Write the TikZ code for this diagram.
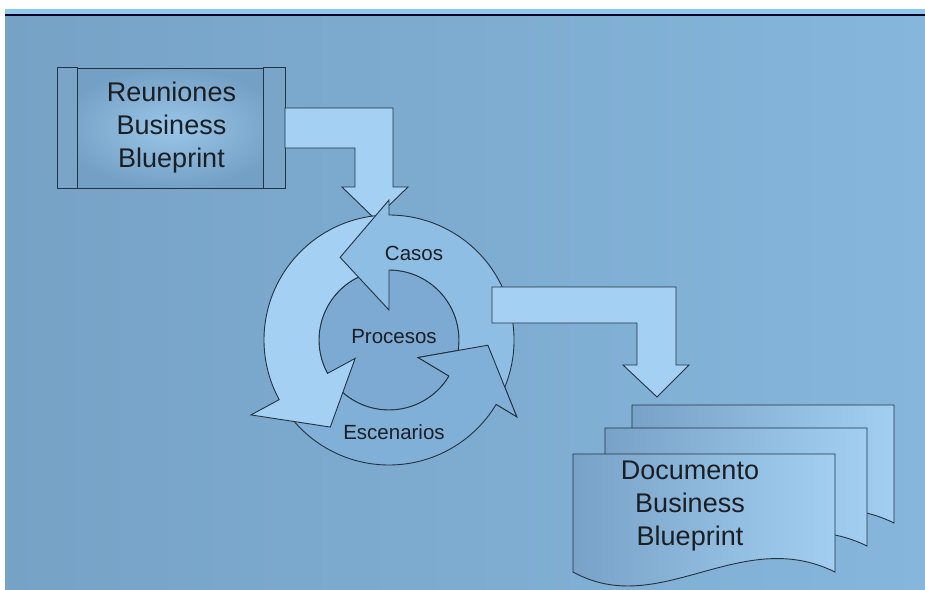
\documentclass[tikz,border=0pt]{standalone}
\usepackage{fontspec}
\setmainfont{Liberation Sans}

\definecolor{bgleft}{HTML}{76A2C6}
\definecolor{bgright}{HTML}{86B6DC}
\definecolor{topstrip}{HTML}{8ECAEB}
\definecolor{arrowlight}{HTML}{A3D0F3}
\definecolor{casosblue}{HTML}{8FBEE4}
\definecolor{escblue}{HTML}{80AFD7}
\definecolor{holeblue}{HTML}{7DAAD2}
\definecolor{boxinner}{HTML}{9AC6E9}
\definecolor{boxouter}{HTML}{74A0C5}
\definecolor{boxside}{HTML}{7AA5C9}
\definecolor{docleft}{HTML}{78A2C7}
\definecolor{docright}{HTML}{A2CFF1}
\definecolor{edge}{HTML}{26323D}
\definecolor{ink}{HTML}{1B1F24}

\tikzset{
  outline/.style={draw=edge, line width=0.9pt, line join=miter},
  bigtext/.style={font=\fontsize{27}{33}\selectfont, text=ink, align=center},
  cyctext/.style={font=\fontsize{20.5}{24}\selectfont, text=ink},
}

\begin{document}
\begin{tikzpicture}[x=1pt,y=-1pt]
  \useasboundingbox (0,0) rectangle (925,589);
  % background
  \fill[white] (0,0) rectangle (925,589);
  \shade[left color=bgleft, right color=bgright] (5,14) rectangle (925,589);
  \fill[topstrip] (5,9) rectangle (925,14);
  \draw[line width=2.6pt, black!85!blue] (5,15) -- (925,15);

  % meetings box
  \node[outline, shading=radial, inner color=boxinner, outer color=boxouter,
        minimum width=227pt, minimum height=120pt, inner sep=0pt] (reun) at (171.5,128) {};
  \draw[outline, fill=boxside] (reun.north west) rectangle ([xshift=20pt]reun.south west);
  \draw[outline, fill=boxside] ([xshift=-22pt]reun.north east) rectangle (reun.south east);
  \node[bigtext] (reuntxt) at (reun) {Reuniones\\Business\\Blueprint};

  % arrow down to the cycle
  \draw[outline, fill=arrowlight] (285,108) -- (393,108) -- (393,187) -- (408,187)
    -- (375,219) -- (342,187) -- (355,187) -- (355,148) -- (285,148) -- cycle;

  % cycle
  \begin{scope}[shift={(389,340)}, yscale=-1]
    \draw[outline, fill=holeblue] (0,0) circle[radius=70];
    \draw[outline, fill=escblue] (218:125) arc[start angle=218, end angle=329, radius=125]
      -- (329:149) -- (357:99) -- (329:34) -- (329:70)
      arc[start angle=329, end angle=218, radius=70] -- cycle;
    \draw[outline, fill=arrowlight] (93:125) arc[start angle=93, end angle=208.5, radius=125]
      -- (208.5:157) -- (236:105) -- (208.5:38.5) -- (208.5:70)
      arc[start angle=208.5, end angle=93, radius=70] -- cycle;
    \draw[outline, fill=casosblue] (-27:125) arc[start angle=-27, end angle=90, radius=125]
      -- (90:140) -- (120.6:96) -- (90:30) -- (90:70)
      arc[start angle=90, end angle=-27, radius=70] -- cycle;
    % head of Escenarios again, over the tail of Casos
    \fill[escblue] (329:34) -- (357:99) -- (329:149) -- cycle;
    \draw[outline] (329:70) -- (329:34) -- (357:99) -- (329:149) -- (329:125);
  \end{scope}
  \node[cyctext] (casos) at (414,253) {Casos};
  \node[cyctext] (proc) at (394,337) {Procesos};
  \node[cyctext] (esc) at (394,432) {Escenarios};

  % arrow down to the documents
  \draw[outline, fill=arrowlight] (492,287) -- (676,287) -- (676,365) -- (689,365)
    -- (657,397) -- (623,365) -- (637,365) -- (637,323) -- (492,323) -- cycle;

  % documents
  \foreach \dx/\dy in {59/-49, 32/-26, 0/0}
    \draw[outline, left color=docleft, right color=docright, shift={(\dx,\dy)}]
      (573,454) -- (835,454) -- (835,572) .. controls (740,525) and (660,620) .. (573,572) -- cycle;
  \node[bigtext] (doc) at (690,506) {Documento\\Business\\Blueprint};
\end{tikzpicture}
\end{document}
